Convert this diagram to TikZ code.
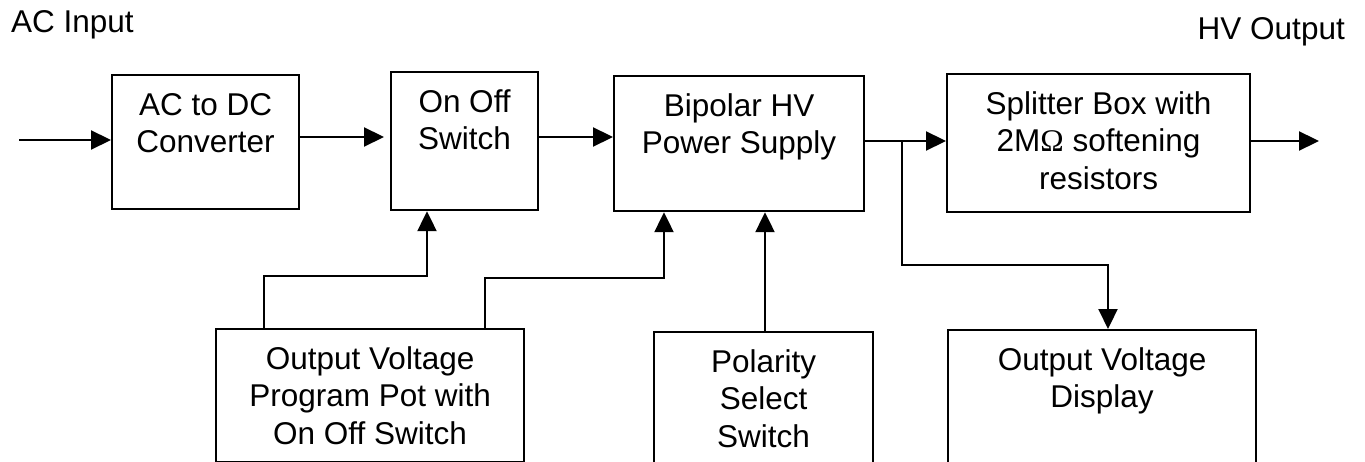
\documentclass[tikz,border=0pt]{standalone}
\usepackage{fontspec}
\setmainfont{Liberation Sans}
\newfontfamily\omegafont{Liberation Serif}
\usetikzlibrary{arrows.meta}
\newcommand\blktext[3]{\parbox[t][#2pt][t]{#1pt}{\centering\fontsize{31.5}{37.5}\selectfont\rule{0pt}{40pt}#3}}
\begin{document}
\begin{tikzpicture}[x=1pt,y=-1pt,
  blk/.style={draw, line width=2.2pt, inner sep=0pt, anchor=north west},
  conn/.style={line width=2.2pt},
  arr/.style={conn, -{Triangle[length=20pt,width=19pt]}},
  lbl/.style={inner sep=0pt, font=\fontsize{31.5}{37.5}\selectfont}
]
\useasboundingbox (0,0) rectangle (1365,462);
\fill[white] (0,0) rectangle (1365,462);
\clip (0,0) rectangle (1365,462);

\node[lbl, anchor=base west] (acin) at (11,33) {AC Input};
\node[lbl, anchor=base east] (hvout) at (1345,40) {HV Output};

\node[blk] (acdc) at (111,74) {\blktext{187}{134}{AC to DC\\Converter}};
\node[blk] (onoff) at (390,71) {\blktext{147}{138}{On Off\\Switch}};
\node[blk] (bip) at (613,75) {\blktext{250}{135}{Bipolar HV\\Power Supply}};
\node[blk] (split) at (946,73) {\blktext{303}{138}{Splitter Box with\\2M{\omegafont Ω} softening\\resistors}};
\node[blk] (pot) at (215,328) {\blktext{308}{133}{Output Voltage\\Program Pot with\\On Off Switch}};
\node[blk] (pol) at (653,331) {\blktext{219}{150}{Polarity\\Select\\Switch}};
\node[blk] (disp) at (947,329) {\blktext{308}{150}{Output Voltage\\Display}};

\coordinate (in) at (19,140);
\coordinate (out) at (1319,141);
\coordinate (ya) at (0,137);
\coordinate (yb) at (0,141);
\coordinate (j) at (902,141);
\coordinate (jd) at (902,265);
\coordinate (dx) at (1108,265);
\coordinate (p1) at (264,276);
\coordinate (p2) at (427,276);
\coordinate (p3) at (485,278);
\coordinate (p4) at (664,278);
\coordinate (px) at (765,0);

\draw[arr] (in) -- (in -| acdc.west);
\draw[arr, shorten >=6pt] (acdc.east |- ya) -- (onoff.west |- ya);
\draw[arr] (onoff.east |- ya) -- (bip.west |- ya);
\draw[arr] (bip.east |- yb) -- (split.west |- yb);
\draw[arr] (split.east |- yb) -- (out);
\draw[arr] (j) -- (jd) -- (dx) -- (dx |- disp.north);
\draw[arr] (p1 |- pot.north) -- (p1) -- (p2) -- (p2 |- onoff.south);
\draw[arr] (p3 |- pot.north) -- (p3) -- (p4) -- (p4 |- bip.south);
\draw[arr] (px |- pol.north) -- (px |- bip.south);
\end{tikzpicture}
\end{document}
